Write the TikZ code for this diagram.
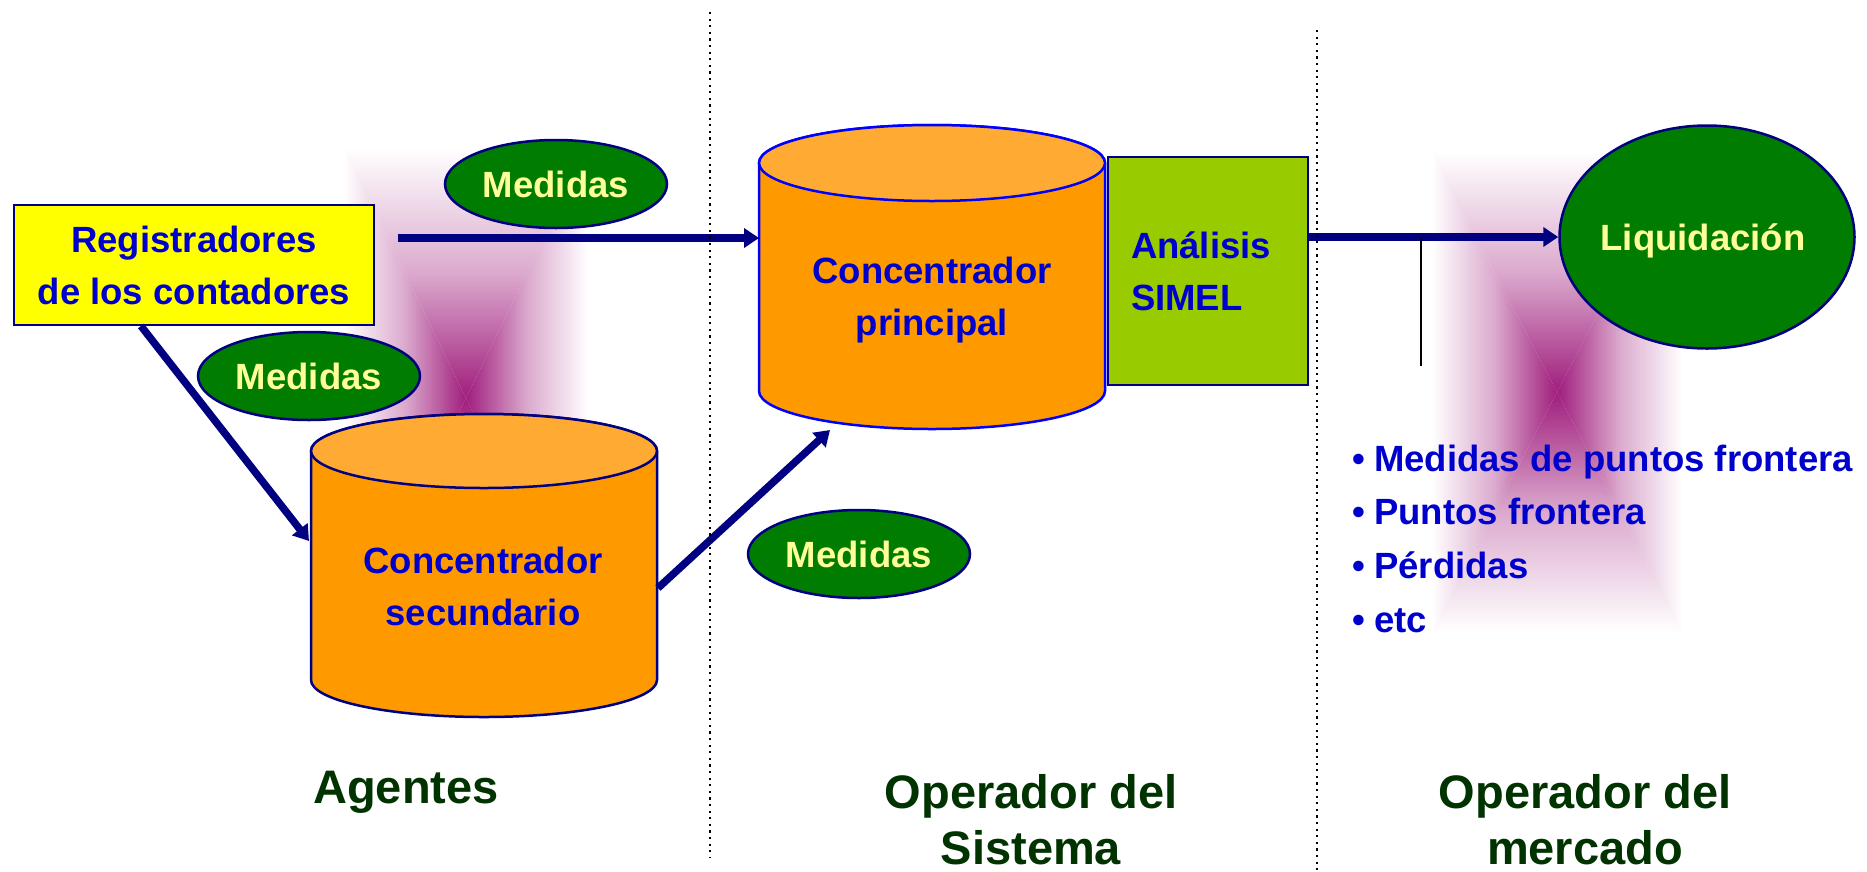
\documentclass[tikz,border=0pt]{standalone}
\usepackage{fontspec}
\setmainfont{Liberation Sans}
\usetikzlibrary{shapes.geometric,arrows.meta}
\definecolor{navy}{RGB}{0,0,128}
\definecolor{brblue}{RGB}{0,0,255}
\definecolor{txtblue}{RGB}{0,0,204}
\definecolor{orbody}{RGB}{255,153,0}
\definecolor{ortop}{RGB}{255,171,51}
\definecolor{simelg}{RGB}{153,204,0}
\definecolor{boxy}{RGB}{255,255,0}
\definecolor{medg}{RGB}{0,125,0}
\definecolor{ltyel}{RGB}{255,255,153}
\definecolor{lblg}{RGB}{0,51,0}
\definecolor{glowc}{RGB}{160,30,125}

\newcommand{\glowrect}[4]{%
 \shade[top color=white, bottom color=glowc, middle color=glowc!38!white] (#1,-#2) -- ({#1-#3},{-#2+#4}) -- ({#1+#3},{-#2+#4}) -- cycle;
 \shade[top color=glowc, bottom color=white, middle color=glowc!38!white] (#1,-#2) -- ({#1-#3},{-#2-#4}) -- ({#1+#3},{-#2-#4}) -- cycle;
 \shade[left color=white, right color=glowc, middle color=glowc!38!white] (#1,-#2) -- ({#1-#3},{-#2+#4}) -- ({#1-#3},{-#2-#4}) -- cycle;
 \shade[left color=glowc, right color=white, middle color=glowc!38!white] (#1,-#2) -- ({#1+#3},{-#2+#4}) -- ({#1+#3},{-#2-#4}) -- cycle;
}
\newcommand{\mybul}{\makebox[22pt][l]{\textbullet}}

\begin{document}
\begin{tikzpicture}[x=1pt,y=1pt,
  arr/.style={draw=navy, line width=7.5pt, -{Triangle[length=15pt,width=19pt]}},
  dotl/.style={draw=black, line width=2.2pt, dash pattern=on 2.2pt off 4.4pt},
  bluetxt/.style={text=txtblue, font=\fontsize{36.5}{52}\selectfont\bfseries},
  yeltxt/.style={text=ltyel, font=\fontsize{36.5}{44}\selectfont\bfseries},
  medidas/.style={ellipse, draw=navy, line width=2.5pt, fill=medg, yeltxt,
    minimum width=222pt, minimum height=88pt, inner sep=0pt},
  cyltxt/.style={bluetxt, align=center, inner sep=0pt},
  lbl/.style={text=lblg, font=\fontsize{47}{56}\selectfont\bfseries, align=center, inner sep=0pt},
  bulletline/.style={bluetxt, anchor=base west, inner sep=0pt},
  cylsec/.style={draw=navy, line width=2.5pt},
  cylpri/.style={draw=brblue, line width=2.5pt},
]
\useasboundingbox (0,0) rectangle (1867,-871);
\fill[white] (0,0) rectangle (1867,-871);

% glows
\glowrect{466}{398}{122}{250}
\glowrect{1557}{392}{125}{240}

% named coordinates for connector ends
\coordinate (a1s) at (398,-238);
\coordinate (a1e) at (759,-238);
\coordinate (a2s) at (141,-326);
\coordinate (a2e) at (309,-541);
\coordinate (a3s) at (658,-588);
\coordinate (a3e) at (830,-430);
\coordinate (vt) at (1420.5,-238);
\coordinate (vb) at (1420.5,-366);
\coordinate (d1t) at (710,-12);
\coordinate (d1b) at (710,-857);
\coordinate (d2t) at (1317,-30);
\coordinate (d2b) at (1317,-871);

% Medidas ellipses
\node[medidas] (m1) at (556,-184) {Medidas};
\node[medidas] (m2) at (309,-376) {Medidas};
\node[medidas] (m3) at (859,-554) {Medidas};

% registradores box
\node[draw=navy, line width=2.5pt, fill=boxy, minimum width=360pt, minimum height=120pt,
      inner sep=0pt, align=center, bluetxt] (reg) at (194,-265) {Registradores\\de los contadores};

% secondary cylinder
\path[cylsec, fill=orbody] (311,-451) -- (311,-680) arc[start angle=180, end angle=360, x radius=173, y radius=37]
   -- (657,-451) arc[start angle=0, end angle=180, x radius=173, y radius=37] -- cycle;
\path[cylsec, fill=ortop] (484,-451) ellipse[x radius=173, y radius=37];
\node[cyltxt] (sec) at (483,-586) {Concentrador\\secundario};

% principal cylinder
\path[cylpri, fill=orbody] (759,-163) -- (759,-391) arc[start angle=180, end angle=360, x radius=173, y radius=38]
   -- (1105,-163) arc[start angle=0, end angle=180, x radius=173, y radius=38] -- cycle;
\path[cylpri, fill=ortop] (932,-163) ellipse[x radius=173, y radius=38];
\node[cyltxt] (pri) at (932,-300) {Concentrador\\principal};

% SIMEL box
\node[draw=navy, line width=2.5pt, fill=simelg, minimum width=200pt, minimum height=228pt,
      inner sep=0pt, text width=154pt, align=left, bluetxt] (simel) at (1208,-271) {Análisis\\SIMEL};

% Liquidacion
\node[ellipse, draw=navy, line width=2.5pt, fill=medg, inner sep=0pt,
      minimum width=295pt, minimum height=223pt] (liq) at (1707,-237) {};
\node[yeltxt, inner sep=0pt] (liqtxt) at ([xshift=-4pt,yshift=-4pt]liq.center) {Liquidación};

% connectors
\draw[arr] (a1s) -- (a1e);
\draw[arr] (a2s) -- (a2e);
\draw[arr] (a3s) -- (a3e);
\draw[arr] (simel.east |- liq.west) -- (liq.west);
\draw[black, line width=2pt] (vt) -- (vb);

% bullet list
\node[bulletline] (b1) at (1352,-471) {\mybul Medidas de puntos frontera};
\node[bulletline] (b2) at (1352,-524) {\mybul Puntos frontera};
\node[bulletline] (b3) at (1352,-578) {\mybul Pérdidas};
\node[bulletline] (b4) at (1352,-632) {\mybul etc};

% dotted separators
\draw[dotl] (d1t) -- (d1b);
\draw[dotl] (d2t) -- (d2b);

% bottom labels
\node[lbl] (agentes) at (406,-792) {Agentes};
\node[lbl] (opsis) at (1031,-820) {Operador del\\Sistema};
\node[lbl] (opmer) at (1585,-820) {Operador del\\mercado};
\end{tikzpicture}
\end{document}
